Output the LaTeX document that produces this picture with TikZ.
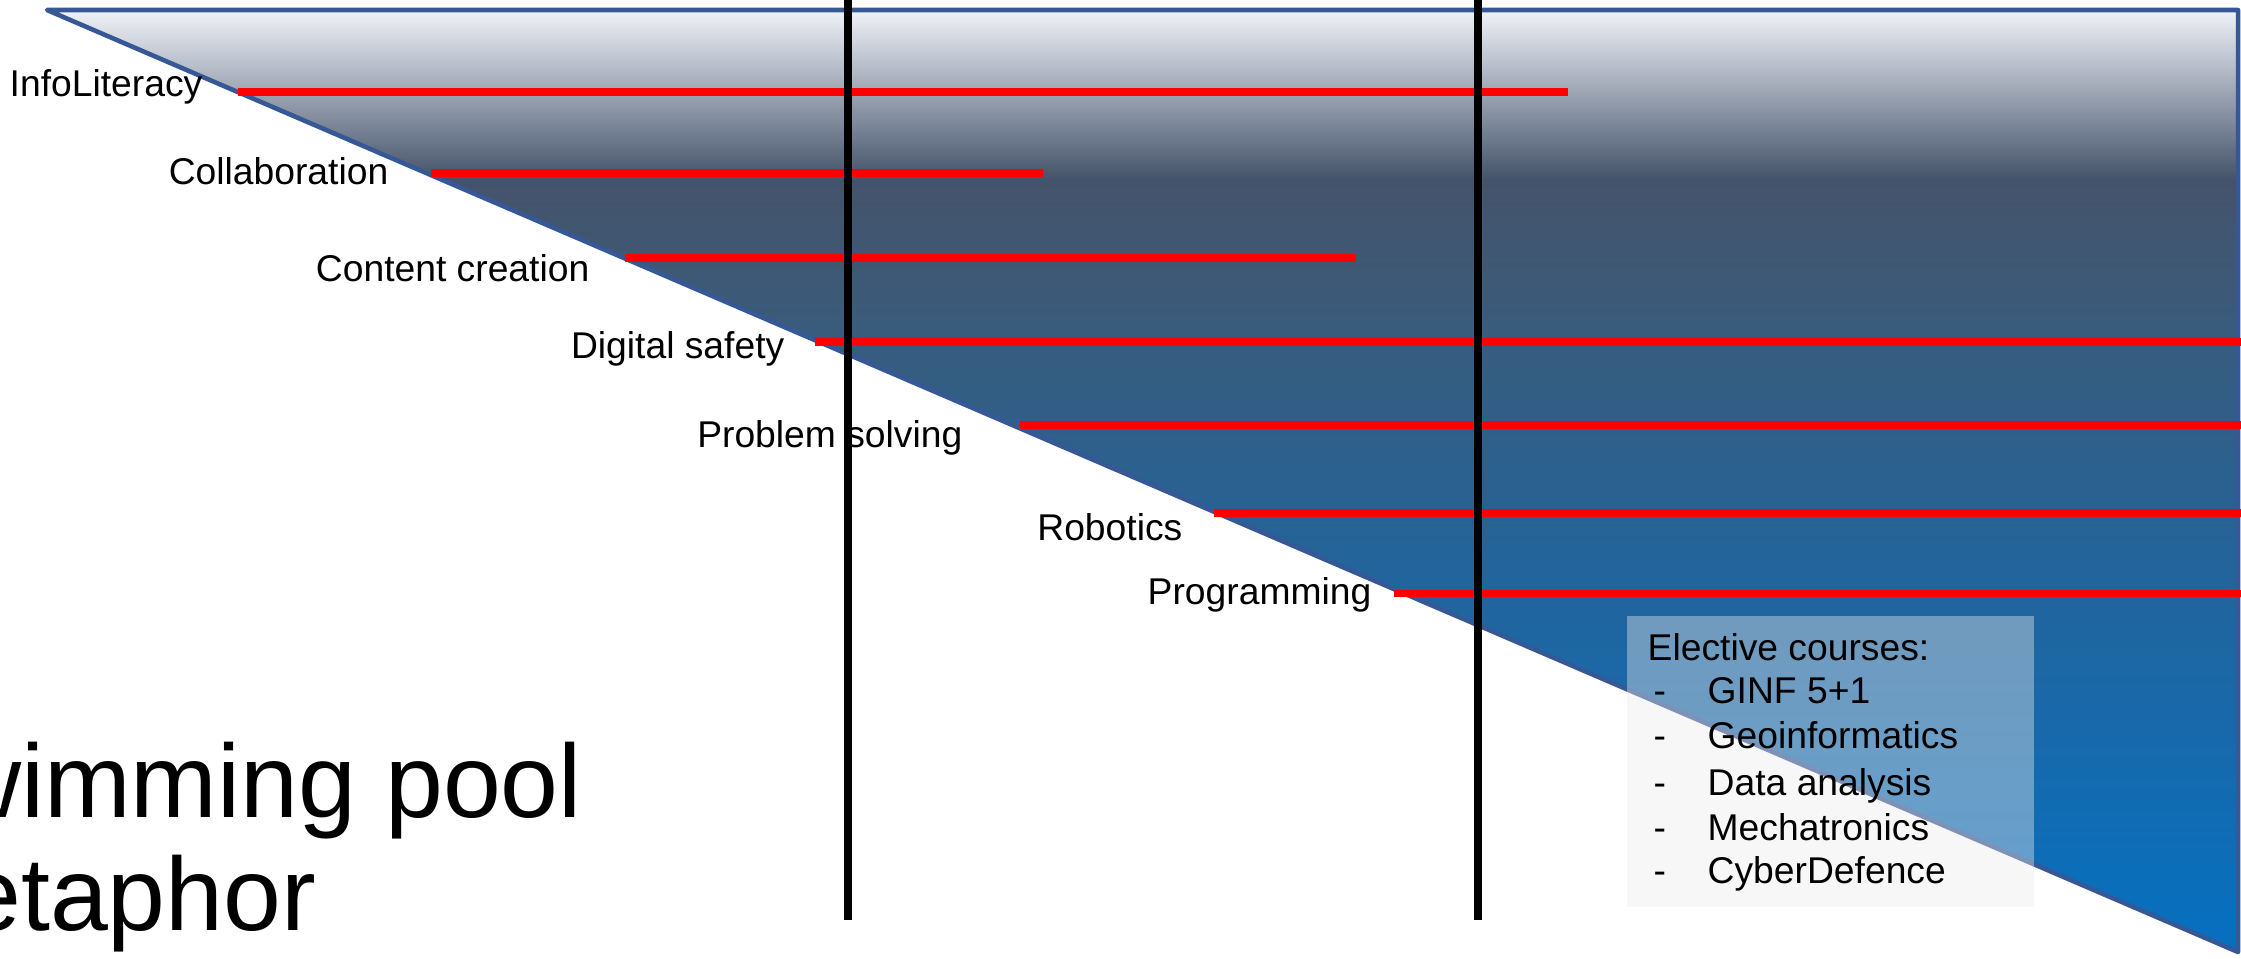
\documentclass[tikz,border=0pt]{standalone}
\usepackage{fontspec}
\setmainfont{Liberation Sans}

\definecolor{poolframe}{RGB}{54,88,150}
\definecolor{pooltop}{RGB}{240,242,248}
\definecolor{poolslate}{RGB}{68,83,106}
\definecolor{poolgrey}{RGB}{60,90,120}
\definecolor{poolmid}{RGB}{35,100,154}
\definecolor{pooldeep}{RGB}{26,104,168}
\definecolor{poolbottom}{RGB}{5,112,192}
\definecolor{boxfill}{RGB}{235,235,235}

\pgfdeclareverticalshading{poolshade}{100bp}{
  color(0bp)=(poolbottom);
  color(25bp)=(poolbottom);
  color(38.4bp)=(pooldeep);
  color(45.8bp)=(poolmid);
  color(59.6bp)=(poolgrey);
  color(66bp)=(poolslate);
  color(75bp)=(pooltop);
  color(100bp)=(pooltop)}

\begin{document}
\begin{tikzpicture}[
        every node/.style={font=\fontsize{10.6}{12.7}\selectfont, inner sep=0pt},
        pool/.style={shading=poolshade, draw=poolframe, line width=1.3pt, line join=round},
        level/.style={red, line width=2.1pt},
        divider/.style={black, line width=2.3pt},
        label/.style={anchor=base east},
        listitem/.style={anchor=base west},
        titletext/.style={anchor=base west, font=\fontsize{29.6}{32}\selectfont}
    ]

    \useasboundingbox (0,0) rectangle (22.41,-9.59);

    % =====================================================
    % The pool: shallow end left, deep end right
    % =====================================================
    \shadedraw[pool] (0.47,-0.10) -- (22.38,-0.10) -- (22.38,-9.52) -- cycle;

    % Competence levels
    \draw[level] (2.38,-0.92) -- (15.68,-0.92);
    \draw[level] (4.31,-1.73) -- (10.43,-1.73);
    \draw[level] (6.25,-2.58) -- (13.56,-2.58);
    \draw[level] (8.15,-3.42) -- (22.41,-3.42);
    \draw[level] (10.20,-4.25) -- (22.41,-4.25);
    \draw[level] (12.14,-5.13) -- (22.41,-5.13);
    \draw[level] (13.94,-5.935) -- (22.41,-5.935);

    % Level labels
    \node[label] (info) at (2.03,-0.97) {InfoLiteracy};
    \node[label] (collab) at (3.89,-1.85) {Collaboration};
    \node[label] (content) at (5.90,-2.82) {Content creation};
    \node[label] (safety) at (7.85,-3.58) {Digital safety};
    \node[label] (problem) at (9.63,-4.47) {Problem solving};
    \node[label] (robotics) at (11.83,-5.40) {Robotics};
    \node[label] (programming) at (13.72,-6.04) {Programming};

    % School stage dividers
    \draw[divider] (8.48,0) -- (8.48,-9.20);
    \draw[divider] (14.78,0) -- (14.78,-9.20);

    % =====================================================
    % Elective courses box
    % =====================================================
    \fill[boxfill, fill opacity=0.4] (16.27,-6.16) rectangle (20.34,-9.07);

    \node[listitem] (elective) at (16.47,-6.60) {Elective courses:};
    \node[listitem] (ginf) at (16.53,-7.03) {\makebox[0.54cm][l]{-}GINF 5+1};
    \node[listitem] (geo) at (16.53,-7.48) {\makebox[0.54cm][l]{-}Geoinformatics};
    \node[listitem] (data) at (16.53,-7.95) {\makebox[0.54cm][l]{-}Data analysis};
    \node[listitem] (mecha) at (16.53,-8.40) {\makebox[0.54cm][l]{-}Mechatronics};
    \node[listitem] (cyber) at (16.53,-8.83) {\makebox[0.54cm][l]{-}CyberDefence};

    % Title (cut off at the left edge)
    \node[titletext] (title1) at (-1.24,-8.17) {Swimming pool};
    \node[titletext] (title2) at (-1.24,-9.30) {metaphor};

    \end{tikzpicture}
\end{document}
